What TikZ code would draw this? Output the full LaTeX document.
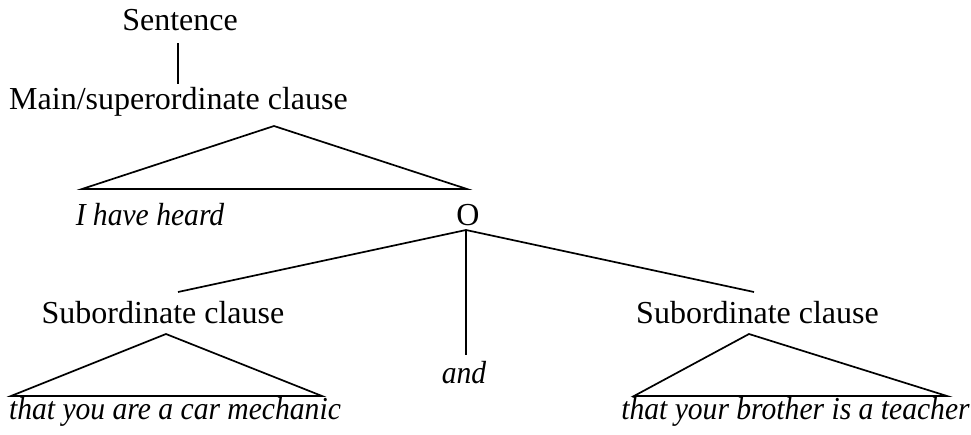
\documentclass[tikz,border=0pt]{standalone}
\usepackage{fontspec}
\setmainfont{Liberation Serif}[ItalicFeatures={FakeStretch=0.925}]
\begin{document}
\begin{tikzpicture}[x=1pt,y=-1pt,
  lbl/.style={anchor=base,inner sep=0pt,font=\fontsize{32}{38}\selectfont},
  ital/.style={lbl,font=\fontsize{32}{38}\selectfont\itshape},
  edge/.style={line width=1.7pt,line join=miter},
  tri/.style={edge}]
\useasboundingbox (0,0) rectangle (971,434);
% labels
\node[lbl] (sent) at (180,30) {Sentence};
\node[lbl] (main) at (178.5,109) {Main/superordinate clause};
\node[ital] (heard) at (150,225) {I have heard};
\node[lbl] (O) at (468,225) {O};
\node[ital] (and) at (464,383) {and};
\node[lbl] (subL) at (163,323) {Subordinate clause};
\node[lbl] (subR) at (757.5,323) {Subordinate clause};
\node[ital] (thatL) at (175,419) {that you are a car mechanic};
\node[ital] (thatR) at (795.5,419) {that your brother is a teacher};
% anchor points
\coordinate (sTop) at (178,43);
\coordinate (sBot) at (178,84);
\coordinate (m1) at (274,126);
\coordinate (m1l) at (82,189);
\coordinate (m1r) at (467,189);
\coordinate (Oa) at (466,230);
\coordinate (Lend) at (178,292);
\coordinate (Rend) at (754,292);
\coordinate (andTop) at (466,355);
\coordinate (l1) at (166,334);
\coordinate (l1l) at (11,396);
\coordinate (l1r) at (322,396);
\coordinate (r1) at (749,334);
\coordinate (r1l) at (634,396);
\coordinate (r1r) at (947,396);
% connectors
\draw[edge] (sTop) -- (sBot);
\draw[tri] (m1l) -- (m1) -- (m1r) -- cycle;
\draw[edge] (Oa) -- (Lend);
\draw[edge] (Oa) -- (Rend);
\draw[edge] (Oa) -- (andTop);
\draw[tri] (l1l) -- (l1) -- (l1r) -- cycle;
\draw[tri] (r1l) -- (r1) -- (r1r) -- cycle;
\end{tikzpicture}
\end{document}
